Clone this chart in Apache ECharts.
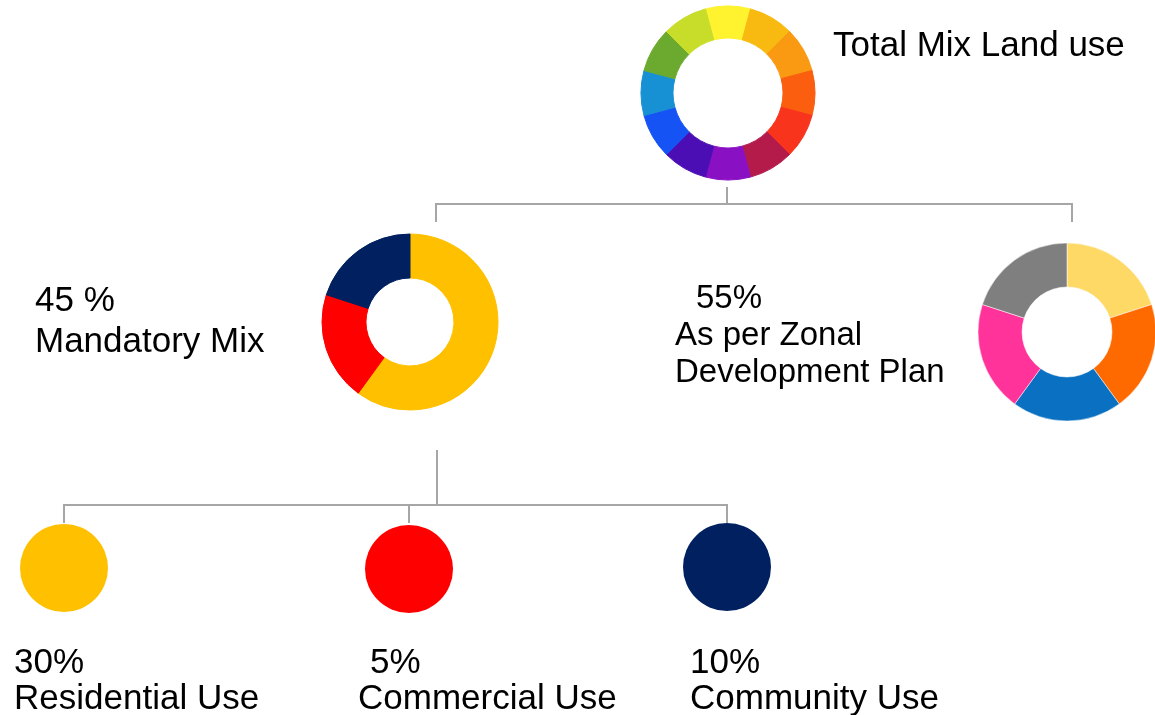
<!DOCTYPE html>
<html>
<head>
<meta charset="utf-8">
<title>Total Mix Land use</title>
<script src="https://cdn.jsdelivr.net/npm/echarts@6/dist/echarts.min.js"></script>
<style>
  html, body { margin: 0; padding: 0; background: #fff; }
  #main { width: 1155px; height: 715px; }
</style>
</head>
<body>
<div id="main"></div>
<script>
// 数据
var wheelNames = ['Yellow', 'Amber', 'Orange', 'Vermilion', 'Red', 'Crimson', 'Purple', 'Indigo', 'Blue', 'Teal', 'Green', 'Lime'];
var wheelValues = [1, 1, 1, 1, 1, 1, 1, 1, 1, 1, 1, 1];
var wheelColors = ['#FFF22E', '#F8BA10', '#F99A12', '#FA5E0E', '#F8341C', '#B41B4B',
    '#8A10C4', '#4B0EB4', '#1553F5', '#1891D4', '#6BAA2E', '#C8DD2A'];

var mandatoryNames = ['Residential Use', 'Commercial Use', 'Community Use'];
var mandatoryValues = [60, 20, 20];
var mandatoryColors = ['#FFC000', '#FF0000', '#002060'];
var mandatoryShares = ['30%', '5%', '10%'];

var zonalNames = ['A', 'B', 'C', 'D', 'E'];
var zonalValues = [20, 20, 20, 20, 20];
var zonalColors = ['#FFD966', '#FF6A00', '#0A70C2', '#FF3399', '#7F7F7F'];

(function () {
    var myChart = echarts.init(document.getElementById('main'))

    // seamless: 用同色描边盖住扇区之间的缝
    function makeData(names, values, colors, seamless) {
        return values.map(function (v, i) {
            var style = { color: colors[i] }
            if (seamless) {
                style.borderColor = colors[i]
                style.borderWidth = 1
            }
            return { name: names[i], value: v, itemStyle: style }
        })
    }

    var baseRing = {
        type: 'pie',
        silent: true,
        clockwise: true,
        label: { show: false },
        labelLine: { show: false },
        itemStyle: { borderWidth: 0 },
        animation: false
    }

    var series = [
        Object.assign({}, baseRing, {
            name: 'Total Mix Land use',
            center: [728, 93],
            radius: [55, 87],
            startAngle: 105,
            data: makeData(wheelNames, wheelValues, wheelColors, true)
        }),
        Object.assign({}, baseRing, {
            name: 'Mandatory Mix',
            center: [410, 322],
            radius: [44, 88],
            startAngle: 90,
            data: makeData(mandatoryNames, mandatoryValues, mandatoryColors, true)
        }),
        Object.assign({}, baseRing, {
            name: 'Zonal Development Plan',
            center: [1067, 332],
            radius: [45, 89],
            startAngle: 90,
            itemStyle: { borderColor: 'rgba(255,255,255,0.5)', borderWidth: 1 },
            data: makeData(zonalNames, zonalValues, zonalColors, false)
        })
    ]

    // 底部三个圆
    var circleCenters = [[64, 568], [409, 569], [727, 567]]
    mandatoryNames.forEach(function (n, i) {
        series.push(Object.assign({}, baseRing, {
            name: n,
            center: circleCenters[i],
            radius: [0, 44],
            data: [{ name: n, value: 1, itemStyle: { color: mandatoryColors[i] } }]
        }))
    })

    var lineStyle = { stroke: '#A6A6A6', lineWidth: 2, fill: null }
    function connector(points) {
        return { type: 'polyline', shape: { points: points }, style: lineStyle, silent: true }
    }
    function txt(x, y, s, size) {
        return {
            type: 'text', x: x, y: y, silent: true,
            style: {
                text: s, fill: '#000', textVerticalAlign: 'middle',
                font: (size || 35) + 'px "Liberation Sans", Arial, sans-serif'
            }
        }
    }

    var graphics = [
        connector([[727, 187], [727, 204]]),
        connector([[436, 222], [436, 204], [1072, 204], [1072, 222]]),
        connector([[437, 450], [437, 505]]),
        connector([[64, 523], [64, 505], [727, 505], [727, 523]]),
        connector([[409, 505], [409, 523]]),
        txt(833, 46, 'Total Mix Land use'),
        txt(35, 301, '45 %'),
        txt(35, 342, 'Mandatory Mix'),
        txt(696, 299, '55%', 33),
        txt(675, 336, 'As per Zonal', 33),
        txt(675, 373, 'Development Plan', 33),
        txt(14, 663, mandatoryShares[0]),
        txt(14, 699, mandatoryNames[0]),
        txt(370, 663, mandatoryShares[1]),
        txt(358, 699, mandatoryNames[1]),
        txt(690, 663, mandatoryShares[2]),
        txt(690, 699, mandatoryNames[2])
    ]

    var option = {
        backgroundColor: '#fff',
        series: series,
        graphic: graphics
    }

    myChart.setOption(option)
    window.addEventListener('resize', function () {
        myChart.resize()
    })
})()
</script>
</body>
</html>
